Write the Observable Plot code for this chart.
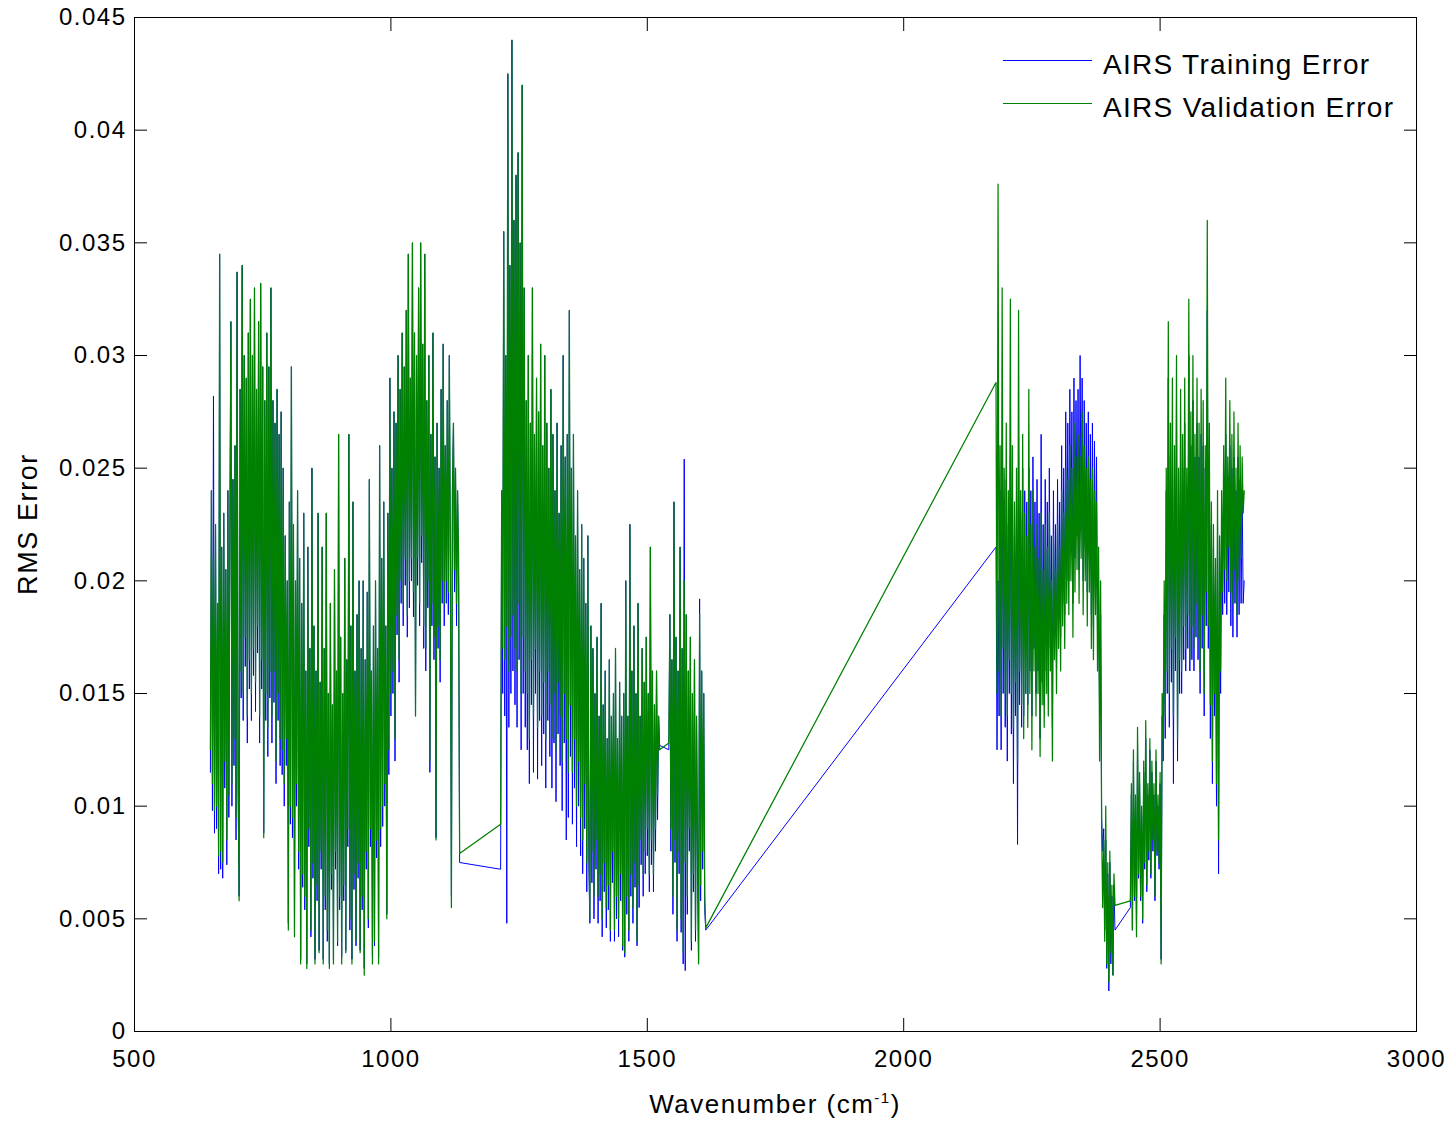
<!DOCTYPE html>
<html>
<head>
<meta charset="utf-8">
<script src="https://cdn.jsdelivr.net/npm/d3@7"></script>
<script src="https://cdn.jsdelivr.net/npm/@observablehq/plot@0.6"></script>
<style>
  body { margin: 0; background: #fff; }
  #wrap { position: relative; width: 1452px; height: 1124px; font-family: "Liberation Sans", Arial, Helvetica, sans-serif; color: #000; }
  .lbl { position: absolute; white-space: nowrap; }
  .legline { position: absolute; height: 0; border-top: 1px solid; }
</style>
</head>
<body>
<div id="wrap"></div>
<script>
// ---- data (wavenumber in cm^-1, RMS error) ----
const wavenumber = [
  648,650,652,654,656,658,660,662,664,666,
  668,670,672,674,676,678,680,682,684,686,
  688,690,692,694,696,698,700,702,704,706,
  708,710,712,714,716,718,720,722,724,726,
  728,730,732,734,736,738,740,742,744,746,
  748,750,752,754,756,758,760,762,764,766,
  768,770,772,774,776,778,780,782,784,786,
  788,790,792,794,796,798,800,802,804,806,
  808,810,812,814,816,818,820,822,824,826,
  828,830,832,834,836,838,840,842,844,846,
  848,850,852,854,856,858,860,862,864,866,
  868,870,872,874,876,878,880,882,884,886,
  888,890,892,894,896,898,900,902,904,906,
  908,910,912,914,916,918,920,922,924,926,
  928,930,932,934,936,938,940,942,944,946,
  948,950,952,954,956,958,960,962,964,966,
  968,970,972,974,976,978,980,982,984,986,
  988,990,992,994,996,998,1000,1002,1004,1006,
  1008,1010,1012,1014,1016,1018,1020,1022,1024,1026,
  1028,1030,1032,1034,1036,1038,1040,1042,1044,1046,
  1048,1050,1052,1054,1056,1058,1060,1062,1064,1066,
  1068,1070,1072,1074,1076,1078,1080,1082,1084,1086,
  1088,1090,1092,1094,1096,1098,1100,1102,1104,1106,
  1108,1110,1112,1114,1116,1118,1120,1122,1124,1126,
  1128,1130,1132,1134,
  1214,1216,1218,1220,1222,1224,1226,1228,1230,1232,
  1234,1236,1238,1240,1242,1244,1246,1248,1250,1252,
  1254,1256,1258,1260,1262,1264,1266,1268,1270,1272,
  1274,1276,1278,1280,1282,1284,1286,1288,1290,1292,
  1294,1296,1298,1300,1302,1304,1306,1308,1310,1312,
  1314,1316,1318,1320,1322,1324,1326,1328,1330,1332,
  1334,1336,1338,1340,1342,1344,1346,1348,1350,1352,
  1354,1356,1358,1360,1362,1364,1366,1368,1370,1372,
  1374,1376,1378,1380,1382,1384,1386,1388,1390,1392,
  1394,1396,1398,1400,1402,1404,1406,1408,1410,1412,
  1414,1416,1418,1420,1422,1424,1426,1428,1430,1432,
  1434,1436,1438,1440,1442,1444,1446,1448,1450,1452,
  1454,1456,1458,1460,1462,1464,1466,1468,1470,1472,
  1474,1476,1478,1480,1482,1484,1486,1488,1490,1492,
  1494,1496,1498,1500,1502,1504,1506,1508,1510,1512,
  1514,1516,1518,1520,1522,1524,
  1542,1544,1546,1548,1550,1552,1554,1556,1558,1560,
  1562,1564,1566,1568,1570,1572,1574,1576,1578,1580,
  1582,1584,1586,1588,1590,1592,1594,1596,1598,1600,
  1602,1604,1606,1608,1610,1612,1614,
  2180,2182,2184,2186,2188,2190,2192,2194,2196,2198,
  2200,2202,2204,2206,2208,2210,2212,2214,2216,2218,
  2220,2222,2224,2226,2228,2230,2232,2234,2236,2238,
  2240,2242,2244,2246,2248,2250,2252,2254,2256,2258,
  2260,2262,2264,2266,2268,2270,2272,2274,2276,2278,
  2280,2282,2284,2286,2288,2290,2292,2294,2296,2298,
  2300,2302,2304,2306,2308,2310,2312,2314,2316,2318,
  2320,2322,2324,2326,2328,2330,2332,2334,2336,2338,
  2340,2342,2344,2346,2348,2350,2352,2354,2356,2358,
  2360,2362,2364,2366,2368,2370,2372,2374,2376,2378,
  2380,2382,2384,2386,2388,2390,2392,2394,2396,2398,
  2400,2402,2404,2406,2408,2410,2412,
  2442,2444,2446,2448,2450,2452,2454,2456,2458,2460,
  2462,2464,2466,2468,2470,2472,2474,2476,2478,2480,
  2482,2484,2486,2488,2490,2492,2494,2496,2498,2500,
  2502,2504,2506,2508,2510,2512,2514,2516,2518,2520,
  2522,2524,2526,2528,2530,2532,2534,2536,2538,2540,
  2542,2544,2546,2548,2550,2552,2554,2556,2558,2560,
  2562,2564,2566,2568,2570,2572,2574,2576,2578,2580,
  2582,2584,2586,2588,2590,2592,2594,2596,2598,2600,
  2602,2604,2606,2608,2610,2612,2614,2616,2618,2620,
  2622,2624,2626,2628,2630,2632,2634,2636,2638,2640,
  2642,2644,2646,2648,2650,2652,2654,2656,2658,2660,
  2662,2664
];

const trainingError = [
  .0115,.0240,.0098,.0282,.0088,.0225,.0090,.0190,.0070,.0345,
  .0072,.0215,.0068,.0230,.0108,.0205,.0074,.0240,.0095,.0220,
  .0315,.0100,.0245,.0118,.0260,.0085,.0337,.0108,.0060,.0285,
  .0148,.0340,.0138,.0300,.0162,.0290,.0128,.0310,.0152,.0325,
  .0138,.0300,.0158,.0330,.0142,.0285,.0168,.0315,.0128,.0332,
  .0152,.0295,.0088,.0280,.0138,.0310,.0122,.0295,.0148,.0330,
  .0128,.0280,.0146,.0270,.0110,.0285,.0138,.0265,.0118,.0275,
  .0114,.0250,.0100,.0220,.0118,.0200,.0048,.0235,.0092,.0295,
  .0086,.0225,.0045,.0200,.0100,.0240,.0072,.0210,.0032,.0190,
  .0064,.0230,.0054,.0160,.0030,.0215,.0082,.0170,.0042,.0250,
  .0068,.0180,.0032,.0160,.0058,.0230,.0036,.0155,.0072,.0215,
  .0032,.0170,.0054,.0230,.0040,.0150,.0030,.0190,.0063,.0145,
  .0032,.0205,.0072,.0160,.0038,.0265,.0054,.0175,.0033,.0150,
  .0058,.0210,.0036,.0165,.0082,.0265,.0045,.0180,.0032,.0235,
  .0063,.0160,.0038,.0185,.0068,.0200,.0036,.0170,.0054,.0200,
  .0028,.0165,.0072,.0195,.0046,.0245,.0082,.0160,.0034,.0180,
  .0038,.0200,.0077,.0170,.0033,.0260,.0082,.0210,.0091,.0235,
  .0100,.0180,.0052,.0230,.0114,.0290,.0140,.0250,.0150,.0275,
  .0120,.0270,.0176,.0300,.0155,.0285,.0190,.0310,.0180,.0295,
  .0198,.0320,.0175,.0345,.0188,.0290,.0200,.0350,.0184,.0310,
  .0140,.0300,.0198,.0330,.0180,.0350,.0208,.0305,.0170,.0345,
  .0160,.0280,.0188,.0300,.0115,.0265,.0180,.0310,.0165,.0255,
  .0086,.0270,.0170,.0250,.0155,.0285,.0190,.0305,.0180,.0260,
  .0190,.0280,.0185,.0300,.0200,.0060,.0240,.0270,.0195,.0250,
  .0180,.0240,.0200,.0075,
  .0072,.0240,.0150,.0355,.0140,.0300,.0048,.0425,.0135,.0340,
  .0150,.0440,.0160,.0360,.0145,.0380,.0135,.0390,.0165,.0350,
  .0125,.0420,.0150,.0330,.0135,.0280,.0125,.0300,.0110,.0270,
  .0145,.0330,.0115,.0265,.0150,.0290,.0112,.0275,.0138,.0305,
  .0118,.0260,.0132,.0300,.0108,.0270,.0138,.0250,.0122,.0285,
  .0108,.0265,.0128,.0240,.0102,.0270,.0132,.0230,.0118,.0260,
  .0098,.0300,.0128,.0255,.0085,.0265,.0095,.0320,.0122,.0250,
  .0092,.0265,.0108,.0220,.0082,.0240,.0100,.0205,.0078,.0225,
  .0070,.0210,.0090,.0190,.0062,.0220,.0074,.0048,.0180,.0066,
  .0170,.0050,.0150,.0072,.0175,.0048,.0140,.0058,.0190,.0042,
  .0145,.0062,.0160,.0046,.0130,.0054,.0165,.0040,.0140,.0066,
  .0150,.0040,.0170,.0050,.0130,.0042,.0155,.0058,.0140,.0036,
  .0150,.0033,.0200,.0052,.0140,.0040,.0225,.0060,.0160,.0048,
  .0180,.0064,.0150,.0038,.0190,.0055,.0140,.0074,.0170,.0060,
  .0155,.0070,.0175,.0078,.0150,.0062,.0215,.0074,.0160,.0062,
  .0145,.0080,.0160,.0094,.0140,.0127,
  .0125,.0185,.0080,.0165,.0052,.0235,.0075,.0175,.0040,.0160,
  .0070,.0215,.0044,.0170,.0030,.0254,.0027,.0185,.0052,.0160,
  .0080,.0175,.0036,.0150,.0062,.0165,.0040,.0140,.0070,.0032,
  .0192,.0058,.0160,.0072,.0150,.0054,.0045,
  .0215,.0125,.0200,.0140,.0240,.0125,.0260,.0150,.0235,.0135,
  .0245,.0120,.0225,.0150,.0255,.0132,.0240,.0110,.0220,.0140,
  .0235,.0083,.0255,.0145,.0230,.0135,.0250,.0140,.0240,.0150,
  .0235,.0145,.0250,.0160,.0240,.0140,.0255,.0170,.0235,.0150,
  .0245,.0160,.0230,.0130,.0265,.0155,.0225,.0145,.0245,.0160,
  .0235,.0150,.0250,.0170,.0220,.0135,.0240,.0175,.0225,.0160,
  .0245,.0180,.0235,.0175,.0260,.0190,.0250,.0185,.0275,.0200,
  .0270,.0200,.0285,.0215,.0275,.0190,.0290,.0210,.0280,.0220,
  .0285,.0205,.0300,.0225,.0290,.0200,.0280,.0215,.0270,.0195,
  .0275,.0210,.0265,.0185,.0270,.0180,.0262,.0200,.0255,.0175,
  .0200,.0140,.0185,.0095,.0080,.0090,.0045,.0085,.0028,.0070,
  .0018,.0075,.0030,.0060,.0025,.0065,.0045,
  .0055,.0105,.0045,.0120,.0058,.0100,.0046,.0128,.0068,.0110,
  .0058,.0096,.0048,.0115,.0072,.0130,.0062,.0105,.0076,.0125,
  .0068,.0115,.0080,.0105,.0058,.0120,.0078,.0100,.0072,.0110,
  .0032,.0140,.0120,.0185,.0130,.0240,.0150,.0290,.0135,.0255,
  .0155,.0270,.0110,.0245,.0160,.0280,.0120,.0240,.0150,.0265,
  .0150,.0250,.0165,.0270,.0160,.0240,.0170,.0300,.0160,.0260,
  .0165,.0280,.0160,.0255,.0175,.0270,.0165,.0255,.0150,.0265,
  .0170,.0260,.0140,.0250,.0180,.0320,.0170,.0255,.0130,.0225,
  .0110,.0215,.0140,.0200,.0100,.0225,.0070,.0210,.0150,.0230,
  .0185,.0245,.0190,.0265,.0185,.0240,.0195,.0260,.0180,.0250,
  .0175,.0255,.0190,.0240,.0175,.0255,.0185,.0245,.0190,.0240,
  .0190,.0200
];

const validationError = [
  .0125,.0240,.0110,.0210,.0098,.0225,.0100,.0190,.0078,.0345,
  .0080,.0215,.0075,.0230,.0120,.0205,.0085,.0240,.0105,.0220,
  .0315,.0110,.0245,.0130,.0260,.0095,.0337,.0120,.0058,.0285,
  .0160,.0340,.0150,.0300,.0175,.0290,.0140,.0310,.0165,.0325,
  .0150,.0300,.0170,.0330,.0155,.0285,.0180,.0315,.0140,.0332,
  .0165,.0295,.0086,.0280,.0150,.0310,.0135,.0295,.0160,.0330,
  .0140,.0280,.0160,.0270,.0120,.0285,.0150,.0265,.0130,.0275,
  .0125,.0250,.0110,.0220,.0130,.0200,.0045,.0235,.0100,.0295,
  .0095,.0225,.0042,.0200,.0110,.0240,.0080,.0210,.0030,.0190,
  .0070,.0230,.0060,.0160,.0028,.0215,.0090,.0170,.0045,.0250,
  .0075,.0180,.0030,.0160,.0065,.0230,.0035,.0155,.0080,.0215,
  .0030,.0170,.0060,.0230,.0045,.0150,.0028,.0190,.0070,.0145,
  .0030,.0205,.0080,.0160,.0040,.0265,.0060,.0175,.0030,.0150,
  .0065,.0210,.0035,.0165,.0090,.0265,.0050,.0180,.0030,.0235,
  .0070,.0160,.0040,.0185,.0075,.0200,.0035,.0170,.0060,.0200,
  .0025,.0165,.0080,.0195,.0050,.0245,.0090,.0160,.0030,.0180,
  .0040,.0200,.0085,.0170,.0030,.0260,.0090,.0210,.0100,.0235,
  .0110,.0180,.0050,.0230,.0125,.0290,.0150,.0250,.0160,.0275,
  .0130,.0270,.0185,.0300,.0165,.0285,.0200,.0310,.0190,.0295,
  .0210,.0320,.0185,.0345,.0200,.0290,.0210,.0350,.0195,.0310,
  .0140,.0300,.0210,.0330,.0190,.0350,.0220,.0305,.0180,.0345,
  .0170,.0280,.0200,.0300,.0120,.0265,.0190,.0310,.0175,.0255,
  .0085,.0270,.0180,.0250,.0165,.0285,.0200,.0305,.0190,.0260,
  .0200,.0280,.0195,.0300,.0210,.0055,.0240,.0270,.0205,.0250,
  .0190,.0240,.0210,.0079,
  .0092,.0240,.0170,.0355,.0165,.0300,.0180,.0425,.0160,.0340,
  .0175,.0440,.0185,.0360,.0170,.0380,.0160,.0390,.0190,.0350,
  .0150,.0420,.0175,.0330,.0160,.0280,.0150,.0300,.0130,.0270,
  .0165,.0330,.0140,.0265,.0170,.0290,.0135,.0275,.0160,.0305,
  .0140,.0260,.0155,.0300,.0130,.0270,.0160,.0250,.0145,.0285,
  .0130,.0265,.0150,.0240,.0125,.0270,.0155,.0230,.0140,.0260,
  .0120,.0300,.0150,.0255,.0130,.0265,.0115,.0320,.0145,.0250,
  .0115,.0265,.0130,.0220,.0100,.0240,.0120,.0205,.0095,.0225,
  .0085,.0210,.0110,.0190,.0075,.0220,.0090,.0050,.0180,.0080,
  .0170,.0060,.0150,.0085,.0175,.0060,.0140,.0070,.0190,.0050,
  .0145,.0075,.0160,.0055,.0130,.0065,.0165,.0045,.0140,.0080,
  .0150,.0045,.0170,.0060,.0130,.0050,.0155,.0070,.0140,.0038,
  .0150,.0035,.0200,.0060,.0140,.0045,.0225,.0070,.0160,.0055,
  .0180,.0075,.0150,.0040,.0190,.0065,.0140,.0085,.0170,.0070,
  .0155,.0080,.0175,.0090,.0150,.0070,.0215,.0085,.0160,.0070,
  .0145,.0090,.0160,.0105,.0140,.0125,
  .0128,.0185,.0090,.0165,.0060,.0235,.0085,.0175,.0045,.0160,
  .0080,.0215,.0050,.0170,.0035,.0200,.0075,.0185,.0060,.0160,
  .0090,.0175,.0040,.0150,.0070,.0165,.0045,.0140,.0080,.0030,
  .0185,.0065,.0160,.0080,.0150,.0060,.0046,
  .0288,.0150,.0376,.0160,.0260,.0140,.0330,.0170,.0250,.0150,
  .0270,.0140,.0240,.0165,.0325,.0150,.0260,.0135,.0235,.0155,
  .0250,.0120,.0320,.0160,.0240,.0145,.0265,.0130,.0230,.0150,
  .0220,.0135,.0285,.0150,.0225,.0125,.0240,.0160,.0215,.0140,
  .0225,.0150,.0210,.0122,.0230,.0145,.0205,.0135,.0225,.0150,
  .0215,.0140,.0230,.0160,.0200,.0120,.0220,.0165,.0205,.0150,
  .0225,.0170,.0215,.0160,.0240,.0180,.0230,.0170,.0250,.0190,
  .0245,.0185,.0260,.0200,.0250,.0175,.0270,.0195,.0255,.0205,
  .0265,.0190,.0255,.0210,.0275,.0185,.0260,.0200,.0250,.0180,
  .0255,.0195,.0245,.0170,.0250,.0165,.0240,.0185,.0235,.0160,
  .0215,.0120,.0200,.0090,.0055,.0085,.0040,.0100,.0030,.0075,
  .0022,.0080,.0035,.0065,.0025,.0070,.0056,
  .0058,.0110,.0045,.0125,.0060,.0105,.0042,.0135,.0070,.0115,
  .0060,.0100,.0050,.0120,.0075,.0138,.0065,.0110,.0080,.0130,
  .0070,.0120,.0085,.0110,.0060,.0125,.0080,.0105,.0075,.0115,
  .0030,.0150,.0130,.0200,.0140,.0250,.0160,.0315,.0150,.0270,
  .0170,.0290,.0140,.0260,.0175,.0300,.0130,.0250,.0165,.0285,
  .0160,.0265,.0180,.0290,.0170,.0250,.0185,.0325,.0165,.0275,
  .0180,.0300,.0170,.0265,.0190,.0290,.0175,.0270,.0160,.0285,
  .0185,.0280,.0150,.0260,.0195,.0360,.0180,.0270,.0145,.0235,
  .0120,.0225,.0150,.0210,.0110,.0240,.0085,.0220,.0160,.0240,
  .0195,.0260,.0205,.0290,.0200,.0255,.0215,.0280,.0195,.0265,
  .0190,.0275,.0205,.0250,.0185,.0270,.0200,.0260,.0210,.0255,
  .0230,.0240
];

const seriesNames = ["AIRS Training Error", "AIRS Validation Error"];
const seriesColors = ["#0000ff", "#008000"];
const xTicks = [500, 1000, 1500, 2000, 2500, 3000];
const xTickLabels = ["500", "1000", "1500", "2000", "2500", "3000"];
const yTicks = [0, 0.005, 0.01, 0.015, 0.02, 0.025, 0.03, 0.035, 0.04, 0.045];
const yTickLabels = ["0", "0.005", "0.01", "0.015", "0.02", "0.025", "0.03", "0.035", "0.04", "0.045"];
const xTitle = "Wavenumber (cm";
const xTitleSup = "-1";
const yTitle = "RMS Error";

if (wavenumber.length !== trainingError.length || wavenumber.length !== validationError.length) {
  throw new Error("length mismatch " + wavenumber.length + " " + trainingError.length + " " + validationError.length);
}

// ---- build ----
const rows = wavenumber.map((w, i) => ({ w, training: trainingError[i], validation: validationError[i] }));
const FONT = '"Liberation Sans", Arial, Helvetica, sans-serif';

const chart = Plot.plot({
  width: 1452,
  height: 1124,
  marginLeft: 134,
  marginRight: 36,
  marginTop: 17,
  marginBottom: 93,
  x: { domain: [500, 3000] },
  y: { domain: [0, 0.045] },
  style: { fontFamily: FONT, fontSize: "24px", letterSpacing: "1.5px", background: "white", color: "black", overflow: "visible" },
  marks: [
    Plot.line(rows, { x: "w", y: "training", stroke: seriesColors[0], strokeWidth: 1 }),
    Plot.line(rows, { x: "w", y: "validation", stroke: seriesColors[1], strokeWidth: 1.25 }),
    Plot.frame({ stroke: "black", strokeWidth: 1 }),
    Plot.axisX({ anchor: "bottom", ticks: xTicks, tickSize: -13, tickPadding: 31, label: null,
      tickFormat: d => xTickLabels[xTicks.indexOf(d)], fill: "black", stroke: "black" }),
    Plot.axisX({ anchor: "top", ticks: xTicks, tickSize: -13, label: null, tickFormat: () => "", stroke: "black" }),
    Plot.axisY({ anchor: "left", ticks: yTicks, tickSize: -13, tickPadding: 21, label: null,
      tickFormat: d => yTickLabels[yTicks.indexOf(d)], fill: "black", stroke: "black" }),
    Plot.axisY({ anchor: "right", ticks: yTicks, tickSize: -13, label: null, tickFormat: () => "", stroke: "black" })
  ]
});

const wrap = document.getElementById("wrap");
wrap.appendChild(chart);

// axis titles
const xt = document.createElement("div");
xt.className = "lbl";
xt.style.cssText = "left:134px;width:1282px;text-align:center;top:1089px;font-size:26px;line-height:30px;letter-spacing:1.5px;";
xt.innerHTML = xTitle + '<sup style="font-size:15px;vertical-align:10px;line-height:0;">' + xTitleSup + '</sup>)';
wrap.appendChild(xt);

const yt = document.createElement("div");
yt.className = "lbl";
yt.style.cssText = "left:-122px;top:509px;width:300px;height:30px;line-height:30px;text-align:center;font-size:27px;letter-spacing:1.6px;transform:rotate(-90deg);";
yt.textContent = yTitle;
wrap.appendChild(yt);

// legend
const legendTop = [60, 103];
seriesNames.forEach((name, i) => {
  const ln = document.createElement("div");
  ln.className = "legline";
  ln.style.cssText = `left:1003px;top:${legendTop[i]}px;width:89px;border-top-color:${seriesColors[i]};`;
  wrap.appendChild(ln);
  const tx = document.createElement("div");
  tx.className = "lbl";
  tx.style.cssText = `left:1103px;top:${legendTop[i] - 10}px;font-size:28px;line-height:30px;letter-spacing:1.3px;`;
  tx.textContent = name;
  wrap.appendChild(tx);
});
</script>
</body>
</html>
